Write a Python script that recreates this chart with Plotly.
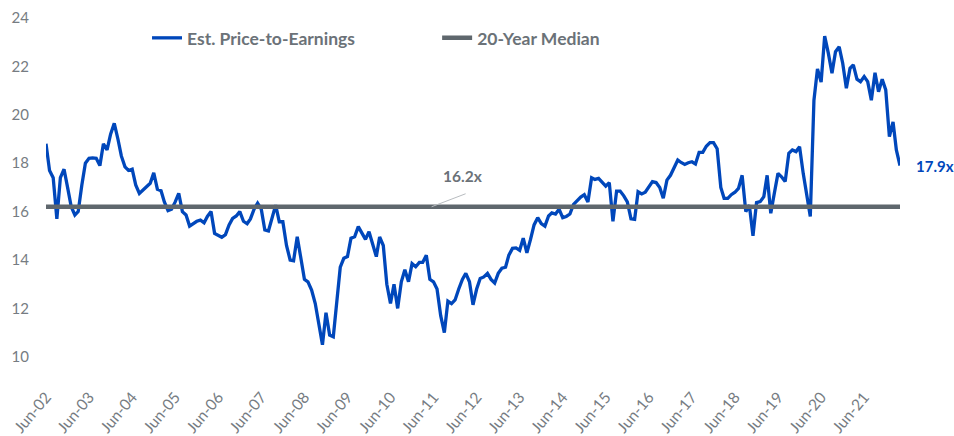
import pandas as pd
import plotly.graph_objects as go

# ---- data -------------------------------------------------------------
months = pd.date_range("2002-06-01", periods=239, freq="MS")

pe_ratio = [
    18.8, 17.7, 17.4, 15.7, 17.4, 17.75, 17.0, 16.2, 15.86, 16.0, 17.1, 18.0,      # Jun-02
    18.2, 18.22, 18.2, 17.9, 18.8, 18.55, 19.2, 19.65, 19.0, 18.3, 17.85, 17.7,    # Jun-03
    17.75, 17.1, 16.75, 16.9, 17.05, 17.17, 17.6, 16.92, 16.86, 16.4, 16.04, 16.1, # Jun-04
    16.4, 16.75, 16.0, 15.86, 15.4, 15.5, 15.6, 15.65, 15.54, 15.8, 16.0, 15.1,    # Jun-05
    15.0, 14.94, 15.05, 15.45, 15.72, 15.82, 16.0, 15.6, 15.5, 15.7, 16.1, 16.35,  # Jun-06
    16.1, 15.24, 15.2, 15.75, 16.27, 15.58, 15.58, 14.6, 14.0, 13.97, 14.96, 14.1, # Jun-07
    13.2, 13.1, 12.76, 12.2, 11.4, 10.5, 11.82, 10.9, 10.83, 12.3, 13.7, 14.07,    # Jun-08
    14.14, 14.9, 14.96, 15.38, 15.1, 14.85, 15.17, 14.6, 14.14, 14.95, 14.6, 13.0, # Jun-09
    12.2, 13.0, 12.0, 13.1, 13.6, 13.1, 13.85, 13.72, 13.9, 13.9, 14.2, 13.2,      # Jun-10
    13.1, 12.8, 11.7, 11.0, 12.3, 12.2, 12.35, 12.8, 13.2, 13.45, 13.1, 12.15,     # Jun-11
    12.8, 13.24, 13.3, 13.45, 13.2, 13.05, 13.45, 13.66, 13.7, 14.2, 14.48, 14.5,  # Jun-12
    14.4, 14.9, 14.3, 14.85, 15.45, 15.75, 15.5, 15.4, 15.82, 15.95, 15.9, 16.1,   # Jun-13
    15.75, 15.8, 15.9, 16.3, 16.45, 16.6, 16.7, 16.4, 17.4, 17.33, 17.37, 17.2,    # Jun-14
    17.05, 17.2, 15.6, 16.85, 16.85, 16.65, 16.4, 15.7, 15.68, 16.82, 16.73, 16.8, # Jun-15
    17.0, 17.24, 17.2, 17.0, 16.55, 17.3, 17.5, 17.8, 18.13, 18.03, 17.95, 18.02,  # Jun-16
    18.06, 17.97, 18.45, 18.45, 18.7, 18.85, 18.85, 18.6, 17.0, 16.55, 16.55, 16.7, # Jun-17
    16.8, 16.96, 17.5, 16.0, 16.27, 15.0, 16.37, 16.41, 16.62, 17.5, 15.93, 16.76, # Jun-18
    17.58, 17.44, 17.24, 18.41, 18.55, 18.48, 18.68, 17.58, 16.7, 15.8, 20.6, 21.9, # Jun-19
    21.35, 23.25, 22.55, 21.72, 22.61, 22.81, 22.13, 21.1, 21.92, 22.06, 21.47, 21.37, # Jun-20
    21.58, 21.37, 20.6, 21.74, 20.95, 21.47, 21.03, 19.1, 19.71, 18.55, 17.9,      # Jun-21
]

median_value = 16.2
median_series = [median_value] * len(months)

tick_dates = ["2002-06-01", "2003-06-01", "2004-06-01", "2005-06-01", "2006-06-01",
              "2007-06-01", "2008-06-01", "2009-06-01", "2010-06-01", "2011-06-01",
              "2012-06-01", "2013-06-01", "2014-06-01", "2015-06-01", "2016-06-01",
              "2017-06-01", "2018-06-01", "2019-06-01", "2020-06-01", "2021-06-01"]
tick_labels = ["Jun-02", "Jun-03", "Jun-04", "Jun-05", "Jun-06", "Jun-07", "Jun-08",
               "Jun-09", "Jun-10", "Jun-11", "Jun-12", "Jun-13", "Jun-14", "Jun-15",
               "Jun-16", "Jun-17", "Jun-18", "Jun-19", "Jun-20", "Jun-21"]
y_ticks = [10, 12, 14, 16, 18, 20, 22, 24]

median_label = "16.2x"
last_label = "17.9x"
median_label_date = "2012-02-06"
median_pointer_date = "2011-05-16"

# ---- style ------------------------------------------------------------
BLUE = "#0047BB"
GRAY = "#5F676D"
TEXT_GRAY = "#6B7278"
FONT = "Lato"

fig = go.Figure()

fig.add_trace(go.Scatter(
    x=months, y=pe_ratio, mode="lines", name="Est. Price-to-Earnings",
    line=dict(color=BLUE, width=3.3), legend="legend", showlegend=True,
))
fig.add_trace(go.Scatter(
    x=months, y=median_series, mode="lines", name="20-Year Median",
    line=dict(color=GRAY, width=4.5), legend="legend2", showlegend=True,
))

# pointer line for the median label
fig.add_shape(
    type="line", xref="x", yref="y",
    xsizemode="pixel", xanchor=median_pointer_date, x0=0, x1=34,
    ysizemode="pixel", yanchor=median_value, y0=0, y1=13,
    line=dict(color="#B8BCC0", width=1),
)

fig.add_annotation(
    x=median_label_date, y=median_value, text=median_label, showarrow=False,
    yshift=31, font=dict(family=FONT, size=15.5, color=TEXT_GRAY, weight="bold"),
)
fig.add_annotation(
    x=months[-1], y=pe_ratio[-1], text=last_label, showarrow=False,
    xanchor="left", xshift=14,
    font=dict(family=FONT, size=15, color=BLUE, weight="bold"),
)

legend_font = dict(family=FONT, size=17.5, color=TEXT_GRAY, weight="bold")
fig.update_layout(
    width=954, height=436,
    showlegend=True,
    margin=dict(l=46, r=54, t=18, b=55, autoexpand=False),
    paper_bgcolor="white", plot_bgcolor="white",
    font=dict(family=FONT, color=TEXT_GRAY),
    legend=dict(x=0.1183, y=0.945, xanchor="left", yanchor="middle",
                orientation="h", font=legend_font, bgcolor="rgba(0,0,0,0)"),
    legend2=dict(x=0.458, y=0.945, xanchor="left", yanchor="middle",
                 orientation="h", font=legend_font, bgcolor="rgba(0,0,0,0)"),
    xaxis=dict(
        type="date", range=[months[0], months[-1]],
        tickmode="array", tickvals=tick_dates, ticktext=tick_labels,
        tickangle=-50, showgrid=False, zeroline=False, showline=False,
        ticklabelstandoff=3, automargin=False,
        tickfont=dict(family=FONT, size=15.5, color="#767C82"),
    ),
    yaxis=dict(
        range=[9, 24], tickmode="array", tickvals=y_ticks,
        showgrid=False, zeroline=False, showline=False,
        ticklabelstandoff=16, automargin=False,
        tickfont=dict(family=FONT, size=15, color="#767C82"),
    ),
)

fig.write_html("out.html", config={"displayModeBar": False},
               post_script="document.body.style.margin='0';")
